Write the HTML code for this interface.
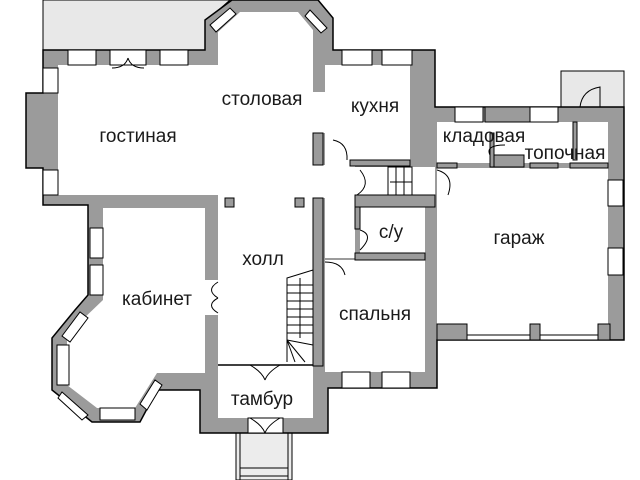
<!DOCTYPE html>
<html><head><meta charset="utf-8"><style>
html,body{margin:0;padding:0;background:#fff;width:640px;height:480px;overflow:hidden}
text{font-family:"Liberation Sans",sans-serif;font-size:19px;fill:#1a1a1a;text-anchor:middle}
</style></head><body>
<svg width="640" height="480" viewBox="0 0 640 480" xmlns="http://www.w3.org/2000/svg">
<polygon points="43,0 230,0 205,22 205,50 43,50" fill="#e8e8e8" stroke="#000" stroke-width="1"/>
<rect x="561" y="71" width="63" height="40" fill="#e8e8e8" stroke="#000" stroke-width="1"/>
<rect x="236" y="430" width="56" height="50" fill="#ececec" stroke="#000" stroke-width="1"/>
<g stroke="#000" stroke-width="1">
<line x1="240" y1="430" x2="240" y2="480"/><line x1="288" y1="430" x2="288" y2="480"/>
<line x1="240" y1="468" x2="288" y2="468"/><line x1="240" y1="476" x2="288" y2="476"/>
</g>
<polygon fill="#9b9b9b" stroke="#000" stroke-width="1.5" points="43,50 205,50 205,20 232,0 318,0 333,18 333,50 435,50 435,107 624,107 624,340 437,340 437,388 328,388 328,433 200,433 200,390 157,390 140,422 92,422 52,390 52,338 75,310 88,295 88,205 43,205 43,168 26,168 26,93 43,93"/>
<g fill="#fff">
<rect x="58" y="65" width="255" height="130"/>
<polygon points="218,66 218,32 240,12 298,12 313,30 313,66"/>
<rect x="218" y="195" width="95" height="223"/>
<rect x="325" y="65" width="85" height="95"/>
<rect x="313" y="92" width="42" height="41"/>
<rect x="325" y="92" width="30" height="166"/>
<rect x="355" y="167" width="80" height="28"/>
<rect x="360" y="207" width="65" height="46"/>
<rect x="325" y="260" width="100" height="112"/>
<rect x="437" y="122" width="171" height="41"/>
<rect x="437" y="168" width="171" height="167"/>
<polygon points="103,208 205,208 205,373 157,373 135,408 97,408 67,385 67,340 80,322 103,300"/>
<rect x="313" y="165" width="12" height="33"/>
<rect x="205" y="280" width="13" height="35"/>
</g>
<g fill="#9b9b9b" stroke="#000" stroke-width="1">
<rect x="313" y="133" width="10" height="32"/>
<rect x="225" y="198" width="9" height="9"/>
<rect x="295" y="198" width="9" height="9"/>
<rect x="313" y="198" width="10" height="168"/>
<rect x="350" y="160" width="60" height="6"/>
<rect x="355" y="195" width="80" height="12"/>
<rect x="355" y="207" width="5" height="22"/>
<rect x="355" y="253" width="70" height="7"/>
<rect x="485" y="107" width="45" height="15"/>
<rect x="490" y="133" width="4" height="34"/>
<rect x="494" y="155" width="30" height="12"/>
<rect x="573" y="122" width="4" height="38"/>
<rect x="437" y="163" width="20" height="5"/>
<rect x="530" y="163" width="28" height="5"/>
<rect x="570" y="163" width="38" height="5"/>
<rect x="530" y="324" width="10" height="16"/>
<rect x="437" y="324" width="30" height="16"/>
<rect x="598" y="324" width="12" height="16"/>
</g>
<line x1="218" y1="365" x2="313" y2="365" stroke="#000" stroke-width="1.5"/>
<g fill="#fff" stroke="#000" stroke-width="1">
<rect x="68" y="50" width="28" height="15"/><rect x="160" y="50" width="28" height="15"/>
<rect x="110" y="50" width="36" height="15"/>
<rect x="342" y="50" width="30" height="15"/><rect x="382" y="50" width="30" height="15"/>
<rect x="455" y="107" width="28" height="15"/><rect x="530" y="107" width="28" height="15"/>
<rect x="608" y="180" width="15" height="26"/><rect x="608" y="248" width="15" height="27"/>
<rect x="43" y="68" width="15" height="25"/><rect x="43" y="170" width="15" height="25"/>
<rect x="90" y="228" width="13" height="30"/><rect x="90" y="265" width="13" height="30"/>
<rect x="467" y="335" width="63" height="5"/><rect x="540" y="335" width="58" height="5"/>
<rect x="342" y="372" width="28" height="16"/><rect x="382" y="372" width="28" height="16"/>
<rect x="248" y="418" width="35" height="15"/>
<rect x="57" y="345" width="12" height="40"/>
<rect x="100" y="408" width="35" height="12"/>
<polygon points="62,336 80,312 88,318 70,342"/>
<polygon points="62,392 88,415 82,420 58,398"/>
<polygon points="140,404 155,380 162,385 147,410"/>
<polygon points="210,25 230,8 236,14 216,32"/>
<polygon points="310,10 327,28 321,33 305,16"/>
</g>
<g fill="none" stroke="#000" stroke-width="1">
<path d="M112,68 Q125,68 128,58 M144,68 Q131,68 128,58"/>
<path d="M333,140 Q348,143 347,160"/>
<path d="M360,170 Q372,185 357,195"/>
<path d="M437,170 Q455,175 448,195"/>
<path d="M360,230 Q375,235 360,250"/>
<path d="M325,262 Q342,262 345,275"/>
<path d="M218,282 Q205,290 218,298 M218,298 Q205,305 218,313"/>
<path d="M250,365 Q262,372 265,380 M280,365 Q268,372 265,380"/>
<path d="M250,418 Q262,425 265,433 M280,418 Q268,425 265,433"/>
<path d="M490,155 Q485,145 505,145"/>
<path d="M580,107 Q582,90 600,87 L600,107"/>
</g>
<g stroke="#000" stroke-width="1" fill="none">
<rect x="388" y="167" width="24" height="28"/>
<line x1="396" y1="167" x2="396" y2="195"/><line x1="404" y1="167" x2="404" y2="195"/>
<line x1="390" y1="182" x2="412" y2="182"/>
<polyline points="287,362 287,278 313,270"/>
<line x1="287" y1="285" x2="313" y2="285"/><line x1="287" y1="293" x2="313" y2="293"/>
<line x1="287" y1="301" x2="313" y2="301"/><line x1="287" y1="309" x2="313" y2="309"/>
<line x1="287" y1="317" x2="313" y2="317"/><line x1="287" y1="325" x2="313" y2="325"/>
<line x1="287" y1="333" x2="313" y2="333"/><line x1="287" y1="340" x2="313" y2="345"/>
<line x1="287" y1="340" x2="305" y2="362"/><line x1="287" y1="340" x2="295" y2="362"/>
<line x1="300" y1="278" x2="300" y2="338"/>
</g>
<text x="138" y="142">гостиная</text>
<text x="262" y="105">столовая</text>
<text x="375" y="112">кухня</text>
<text x="484" y="142">кладовая</text>
<text x="565" y="159">топочная</text>
<text x="391" y="238">с/у</text>
<text x="519" y="244">гараж</text>
<text x="263" y="265">холл</text>
<text x="157" y="305">кабинет</text>
<text x="375" y="320">спальня</text>
<text x="262" y="405">тамбур</text>
</svg>
</body></html>
